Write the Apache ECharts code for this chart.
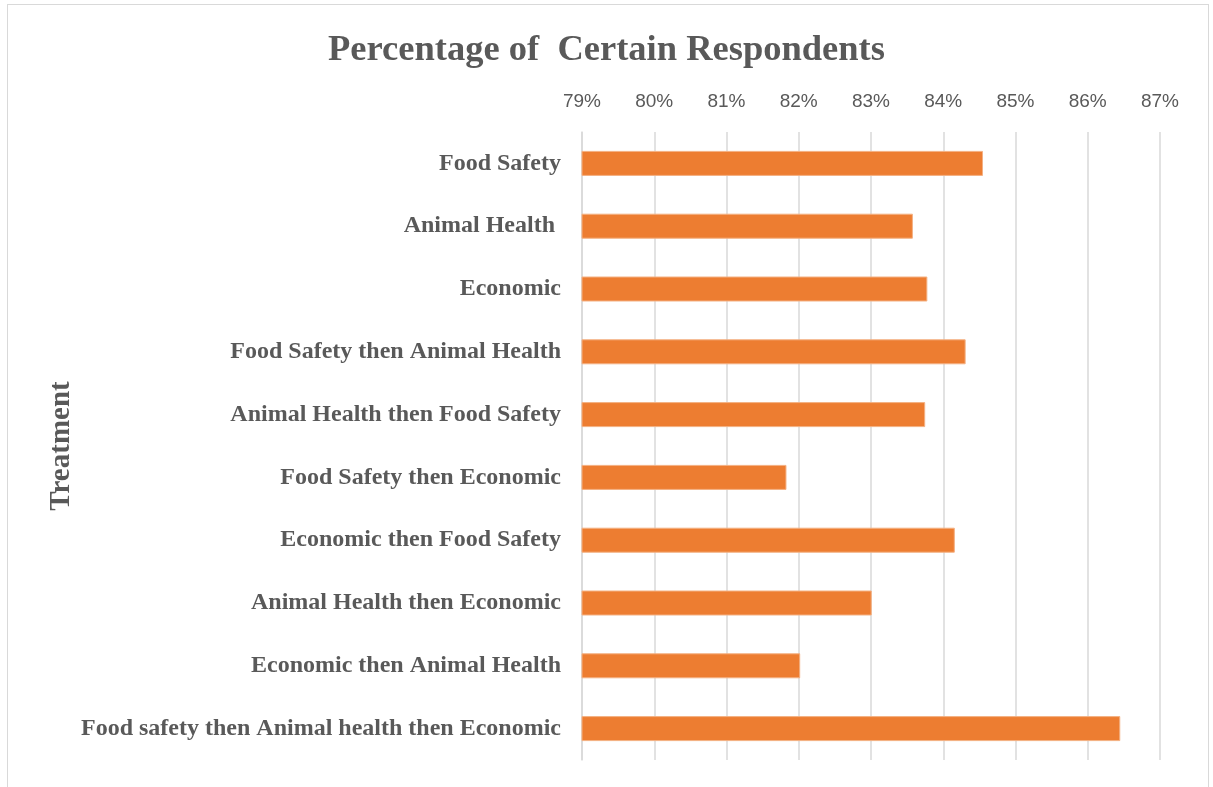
<!DOCTYPE html>
<html>
<head>
<meta charset="utf-8">
<script src="https://cdn.jsdelivr.net/npm/echarts@6/dist/echarts.min.js"></script>
<style>
  html, body { margin: 0; padding: 0; background: #fff; }
  #frame { position: absolute; left: 7px; top: 4px; width: 1202px; height: 800px; border: 1px solid #d9d9d9; box-sizing: border-box; }
  #chart { width: 1213px; height: 787px; position: absolute; left: 0; top: 0; }
</style>
</head>
<body>
<div id="frame"></div>
<div id="chart"></div>
<script>
// Treatment order, top to bottom
const categories = [
  'Food Safety',
  'Animal Health ',
  'Economic',
  'Food Safety then Animal Health',
  'Animal Health then Food Safety',
  'Food Safety then Economic',
  'Economic then Food Safety',
  'Animal Health then Economic',
  'Economic then Animal Health',
  'Food safety then Animal health then Economic'
];
// Share of certain respondents, in percent
const certainPct = [84.55, 83.58, 83.78, 84.31, 83.75, 81.83, 84.16, 83.01, 82.02, 86.45];
const tickMin = 79;
const tickMax = 87;

const chart = echarts.init(document.getElementById('chart'));
chart.setOption({
  animation: false,
  title: {
    text: 'Percentage of  Certain Respondents',
    left: 'center',
    top: 27,
    textStyle: { fontFamily: 'Liberation Serif', fontWeight: 'bold', fontSize: 36.5, color: '#595959' }
  },
  grid: { left: 582, right: 53, top: 132, bottom: 27 },
  xAxis: {
    type: 'value',
    position: 'top',
    min: tickMin,
    max: tickMax,
    interval: 1,
    axisLine: { show: false },
    axisTick: { show: false },
    axisLabel: {
      formatter: v => v + '%',
      fontFamily: 'Liberation Sans',
      fontSize: 19,
      color: '#595959',
      margin: 21
    },
    splitLine: { lineStyle: { color: '#d9d9d9', width: 1.5 } }
  },
  yAxis: {
    type: 'category',
    data: categories,
    inverse: true,
    name: 'Treatment',
    nameLocation: 'middle',
    nameRotate: 90,
    nameGap: 506,
    nameTextStyle: { fontFamily: 'Liberation Serif', fontWeight: 'bold', fontSize: 29, color: '#595959' },
    axisLine: { show: true, lineStyle: { color: '#d9d9d9', width: 1.5 } },
    axisTick: { show: false },
    axisLabel: {
      fontFamily: 'Liberation Serif',
      fontWeight: 'bold',
      fontSize: 24,
      color: '#595959',
      margin: 21
    }
  },
  series: [{
    type: 'bar',
    data: certainPct,
    barWidth: 25,
    itemStyle: { color: '#ED7D31', borderColor: '#F4B183', borderWidth: 1 }
  }]
});
</script>
</body>
</html>
